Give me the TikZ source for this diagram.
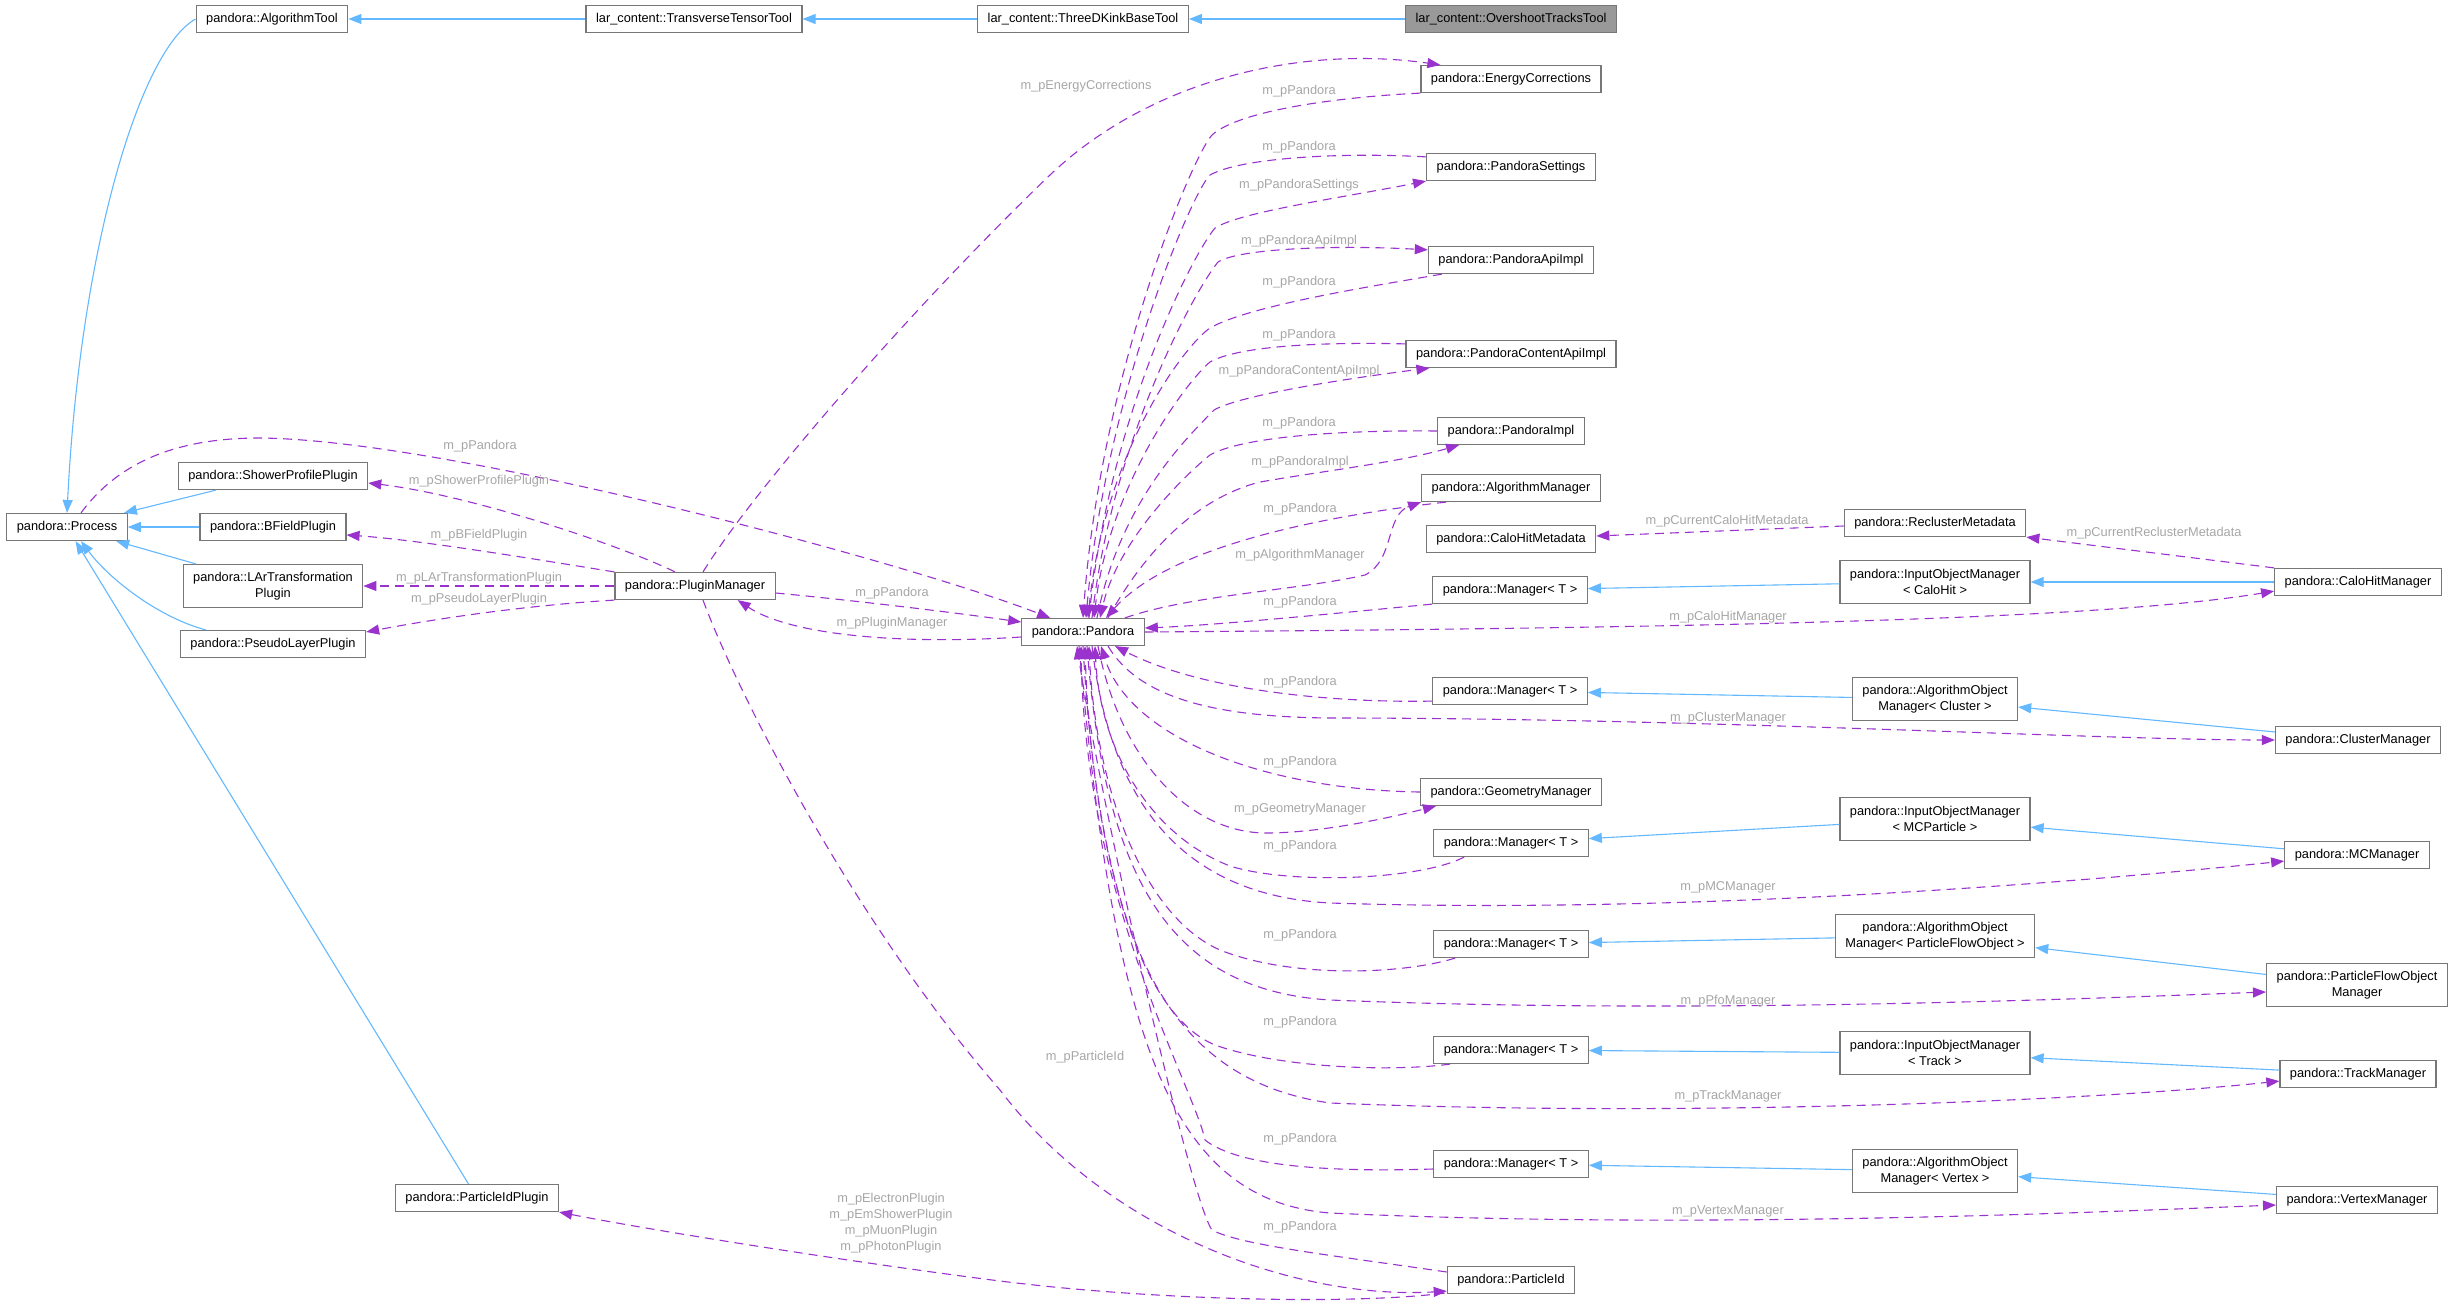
\documentclass[tikz,border=0pt]{standalone}
\usepackage{fontspec}
\setmainfont{Liberation Sans}
\usepackage{xcolor}
\usepackage{tikz}
\usetikzlibrary{arrows.meta,calc}

\definecolor{inheritblue}{HTML}{63B8FF}
\definecolor{usagepurple}{HTML}{9A32CD}
\definecolor{labelgray}{HTML}{A6A6A6}
\definecolor{boxline}{HTML}{777777}

\begin{document}
\begin{tikzpicture}[x=1pt,y=-1pt,font=\fontsize{12.8}{16}\selectfont]
    \tikzstyle{cls}=[rectangle,draw=boxline,line width=1.2pt,fill=white,inner xsep=10pt,inner ysep=3pt,minimum height=27pt]
    \tikzstyle{cls2}=[cls,align=center,minimum height=43pt]
    \tikzstyle{main cls}=[cls,fill=black!40]
    \tikzstyle{annot}=[text=labelgray,inner sep=0pt]
    \tikzstyle{inherit}=[draw=inheritblue,line width=1.1pt,-{Triangle[length=13pt,width=10pt]}]
    \tikzstyle{usage}=[draw=usagepurple,line width=1.1pt,dash pattern=on 9pt off 6pt,-{Triangle[length=13pt,width=10pt]}]

    \useasboundingbox (0,0) rectangle (2455,1308);

    % top row
    \node[cls] (algtool) at (272,19) {pandora::AlgorithmTool};
    \node[cls] (transverse) at (694,19) {lar\_content::TransverseTensorTool};
    \node[cls] (kinkbase) at (1083,19) {lar\_content::ThreeDKinkBaseTool};
    \node[main cls] (overshoot) at (1511,19) {lar\_content::OvershootTracksTool};

    % left side
    \node[cls] (process) at (67,527) {pandora::Process};
    \node[cls] (showerplugin) at (273,476) {pandora::ShowerProfilePlugin};
    \node[cls] (bfieldplugin) at (273,527) {pandora::BFieldPlugin};
    \node[cls2] (larplugin) at (273,586) {pandora::LArTransformation\\Plugin};
    \node[cls] (pseudoplugin) at (273,644) {pandora::PseudoLayerPlugin};
    \node[cls] (pidplugin) at (477,1198) {pandora::ParticleIdPlugin};
    \node[cls] (pluginmgr) at (695,586) {pandora::PluginManager};
    \node[cls] (pandora) at (1083,632) {pandora::Pandora};

    % column right of pandora
    \node[cls] (energycorr) at (1511,79) {pandora::EnergyCorrections};
    \node[cls] (settings) at (1511,167) {pandora::PandoraSettings};
    \node[cls] (apiimpl) at (1511,260) {pandora::PandoraApiImpl};
    \node[cls] (contentapi) at (1511,354) {pandora::PandoraContentApiImpl};
    \node[cls] (pandoraimpl) at (1511,431) {pandora::PandoraImpl};
    \node[cls] (algmgr) at (1511,488) {pandora::AlgorithmManager};
    \node[cls] (calometa) at (1511,539) {pandora::CaloHitMetadata};
    \node[cls] (mgrcalo) at (1510,590) {pandora::Manager< T >};
    \node[cls] (mgrcluster) at (1510,691) {pandora::Manager< T >};
    \node[cls] (geommgr) at (1511,792) {pandora::GeometryManager};
    \node[cls] (mgrmc) at (1511,843) {pandora::Manager< T >};
    \node[cls] (mgrpfo) at (1511,944) {pandora::Manager< T >};
    \node[cls] (mgrtrack) at (1511,1050) {pandora::Manager< T >};
    \node[cls] (mgrvertex) at (1511,1164) {pandora::Manager< T >};
    \node[cls] (particleid) at (1511,1280) {pandora::ParticleId};

    % object managers
    \node[cls] (reclustermeta) at (1935,523) {pandora::ReclusterMetadata};
    \node[cls2] (inputcalo) at (1935,582) {pandora::InputObjectManager\\< CaloHit >};
    \node[cls2] (algobjcluster) at (1935,699) {pandora::AlgorithmObject\\Manager< Cluster >};
    \node[cls2] (inputmc) at (1935,819) {pandora::InputObjectManager\\< MCParticle >};
    \node[cls2] (algobjpfo) at (1935,936) {pandora::AlgorithmObject\\Manager< ParticleFlowObject >};
    \node[cls2] (inputtrack) at (1935,1053) {pandora::InputObjectManager\\< Track >};
    \node[cls2] (algobjvertex) at (1935,1171) {pandora::AlgorithmObject\\Manager< Vertex >};

    \node[cls] (calohitmgr) at (2358,582) {pandora::CaloHitManager};
    \node[cls] (clustermgr) at (2358,740) {pandora::ClusterManager};
    \node[cls] (mcmgr) at (2357,855) {pandora::MCManager};
    \node[cls2] (pfomgr) at (2357,985) {pandora::ParticleFlowObject\\Manager};
    \node[cls] (trackmgr) at (2358,1074) {pandora::TrackManager};
    \node[cls] (vertexmgr) at (2357,1200) {pandora::VertexManager};

    % inheritance
    \draw[inherit] (transverse) -- (algtool);
    \draw[inherit] (kinkbase) -- (transverse);
    \draw[inherit] (overshoot) -- (kinkbase);
    \draw[inherit] (algtool.west) .. controls (140,50) and (80,250) .. (process.north);
    \draw[inherit] (showerplugin) -- (process);
    \draw[inherit] (bfieldplugin) -- (process);
    \draw[inherit] (larplugin) -- (process);
    \draw[inherit] ($(pseudoplugin.north west)+(26,0)$) .. controls (160,618) and (110,580) .. ($(process.south)+(14,0)$);
    \draw[inherit] (pidplugin) -- (process);

    \draw[inherit] (inputcalo) -- (mgrcalo);
    \draw[inherit] (calohitmgr) -- (inputcalo);
    \draw[inherit] (algobjcluster) -- (mgrcluster);
    \draw[inherit] (clustermgr) -- (algobjcluster);
    \draw[inherit] (inputmc) -- (mgrmc);
    \draw[inherit] (mcmgr) -- (inputmc);
    \draw[inherit] (algobjpfo) -- (mgrpfo);
    \draw[inherit] (pfomgr) -- (algobjpfo);
    \draw[inherit] (inputtrack) -- (mgrtrack);
    \draw[inherit] (trackmgr) -- (inputtrack);
    \draw[inherit] (algobjvertex) -- (mgrvertex);
    \draw[inherit] (vertexmgr) -- (algobjvertex);

    % members of the plugin manager
    \draw[usage] ($(process.north)+(14,0)$) .. controls (120,460) and (180,438) .. (260,438)
        .. controls (450,440) and (900,560) .. ($(pandora.north west)+(29,0)$)
        node[annot] at (480,446) {m\_pPandora};
    \draw[usage] ($(pluginmgr.north)+(-20,0)$) .. controls (620,545) and (470,495) .. ($(showerplugin.east)+(0,7)$)
        node[annot] at (479,481) {m\_pShowerProfilePlugin};
    \draw[usage] (pluginmgr.north west) .. controls (540,560) and (420,540) .. ($(bfieldplugin.east)+(0,8)$)
        node[annot] at (479,535) {m\_pBFieldPlugin};
    \draw[usage] (pluginmgr) -- (larplugin)
        node[annot] at (479,578) {m\_pLArTransformationPlugin};
    \draw[usage] (pluginmgr.south west) .. controls (530,605) and (440,618) .. ($(pseudoplugin.east)+(0,-12)$)
        node[annot] at (479,599) {m\_pPseudoLayerPlugin};
    \draw[usage] ($(pluginmgr.east)+(0,7)$) .. controls (850,600) and (950,612) .. ($(pandora.west)+(0,-10)$)
        node[annot] at (892,593) {m\_pPandora};
    \draw[usage] ($(pandora.west)+(0,5)$) .. controls (900,645) and (790,635) .. ($(pluginmgr.south east)+(-38,0)$)
        node[annot] at (892,623) {m\_pPluginManager};
    \draw[usage] ($(pluginmgr.north)+(8,0)$) .. controls (760,480) and (930,290) .. (1050,175)
        .. controls (1150,80) and (1300,45) .. ($(energycorr.north west)+(20,0)$)
        node[annot] at (1086,86) {m\_pEnergyCorrections};
    \draw[usage] ($(pluginmgr.south)+(8,0)$) .. controls (740,700) and (860,930) .. (1000,1090)
        .. controls (1110,1235) and (1300,1300) .. ($(particleid.south west)+(0,-3)$)
        node[annot] at (1085,1057) {m\_pParticleId};
    \draw[usage] ($(particleid.south west)+(-2,-1)$) .. controls (1350,1305) and (1150,1300) .. (1000,1281)
        .. controls (850,1262) and (650,1230) .. (pidplugin.south east)
        node[annot,align=center] at (891,1223) {m\_pElectronPlugin\\m\_pEmShowerPlugin\\m\_pMuonPlugin\\m\_pPhotonPlugin};

    % pandora and the classes above it
    \draw[usage] (energycorr.south west) .. controls (1340,97) and (1240,110) .. (1212,135)
        .. controls (1190,160) and (1100,380) .. (pandora.north)
        node[annot] at (1299,91) {m\_pPandora};
    \draw[usage] ($(settings.north west)+(0,4)$) .. controls (1340,152) and (1240,158) .. (1210,175)
        .. controls (1190,195) and (1105,400) .. ($(pandora.north)+(3,0)$)
        node[annot] at (1299,147) {m\_pPandora};
    \draw[usage] ($(pandora.north)+(6,0)$) .. controls (1108,420) and (1192,255) .. (1215,228)
        .. controls (1240,212) and (1340,198) .. (settings.south west)
        node[annot] at (1299,185) {m\_pPandoraSettings};
    \draw[usage] ($(pandora.north)+(9,0)$) .. controls (1112,440) and (1195,290) .. (1218,262)
        .. controls (1240,248) and (1340,245) .. ($(apiimpl.north west)+(0,4)$)
        node[annot] at (1299,241) {m\_pPandoraApiImpl};
    \draw[usage] ($(apiimpl.south west)+(14,0)$) .. controls (1380,285) and (1250,305) .. (1210,328)
        .. controls (1185,345) and (1105,450) .. ($(pandora.north)+(5,0)$)
        node[annot] at (1299,282) {m\_pPandora};
    \draw[usage] ($(contentapi.north west)+(0,4)$) .. controls (1330,342) and (1240,345) .. (1210,362)
        .. controls (1190,378) and (1110,480) .. ($(pandora.north)+(11,0)$)
        node[annot] at (1299,335) {m\_pPandora};
    \draw[usage] ($(pandora.north)+(14,0)$) .. controls (1120,500) and (1190,435) .. (1214,410)
        .. controls (1240,395) and (1350,378) .. ($(contentapi.south west)+(24,0)$)
        node[annot] at (1299,371) {m\_pPandoraContentApiImpl};
    \draw[usage] (pandoraimpl.west) .. controls (1330,430) and (1240,438) .. (1210,455)
        .. controls (1185,475) and (1118,540) .. ($(pandora.north)+(17,0)$)
        node[annot] at (1299,423) {m\_pPandora};
    \draw[usage] ($(pandora.north)+(25,0)$) .. controls (1140,560) and (1190,500) .. (1260,482)
        .. controls (1330,470) and (1400,462) .. ($(pandoraimpl.south west)+(22,0)$)
        node[annot] at (1300,462) {m\_pPandoraImpl};
    \draw[usage] ($(algmgr.south west)+(25,0)$) .. controls (1330,515) and (1170,545) .. ($(pandora.north)+(23,0)$)
        node[annot] at (1300,509) {m\_pPandora};
    \draw[usage] ($(pandora.north)+(42,0)$) .. controls (1190,595) and (1300,590) .. (1365,575)
        .. controls (1395,560) and (1385,515) .. (algmgr.south west)
        node[annot] at (1300,555) {m\_pAlgorithmManager};
    \draw[usage] (mgrcalo.south west) .. controls (1350,612) and (1220,625) .. ($(pandora.east)+(0,-4)$)
        node[annot] at (1300,602) {m\_pPandora};

    % calo hit manager and metadata
    \draw[usage] (pandora.east) .. controls (1700,628) and (2100,620) .. ($(calohitmgr.south west)+(0,-5)$)
        node[annot] at (1728,617) {m\_pCaloHitManager};
    \draw[usage] (calohitmgr.north west) -- (reclustermeta.south east)
        node[annot] at (2154,533) {m\_pCurrentReclusterMetadata};
    \draw[usage] ($(reclustermeta.west)+(0,3)$) -- ($(calometa.east)+(0,-3)$)
        node[annot] at (1727,521) {m\_pCurrentCaloHitMetadata};

    % pandora and the classes below it
    \draw[usage] ($(mgrcluster.south west)+(0,-4)$) .. controls (1330,703) and (1200,690) .. ($(pandora.south)+(32,0)$)
        node[annot] at (1300,682) {m\_pPandora};
    \draw[usage] ($(pandora.south)+(25,0)$) .. controls (1140,700) and (1220,717) .. (1330,718)
        .. controls (1700,718) and (2100,740) .. (clustermgr.west)
        node[annot] at (1728,718) {m\_pClusterManager};
    \draw[usage] (geommgr.west) .. controls (1270,790) and (1130,740) .. ($(pandora.south)+(18,0)$)
        node[annot] at (1300,762) {m\_pPandora};
    \draw[usage] ($(pandora.south)+(15,0)$) .. controls (1120,760) and (1190,835) .. (1270,833)
        .. controls (1330,832) and (1400,815) .. ($(geommgr.south west)+(16,0)$)
        node[annot] at (1300,809) {m\_pGeometryManager};
    \draw[usage] ($(mgrmc.south west)+(31,0)$) .. controls (1420,880) and (1290,885) .. (1230,866)
        .. controls (1150,835) and (1100,750) .. ($(pandora.south)+(12,0)$)
        node[annot] at (1300,846) {m\_pPandora};
    \draw[usage] ($(pandora.south)+(9,0)$) .. controls (1110,800) and (1180,895) .. (1330,903)
        .. controls (1700,915) and (2100,880) .. ($(mcmgr.south west)+(0,-8)$)
        node[annot] at (1728,887) {m\_pMCManager};
    \draw[usage] ($(mgrpfo.south west)+(22,0)$) .. controls (1400,975) and (1290,978) .. (1220,950)
        .. controls (1140,915) and (1095,780) .. ($(pandora.south)+(6,0)$)
        node[annot] at (1300,935) {m\_pPandora};
    \draw[usage] ($(pandora.south)+(4,0)$) .. controls (1105,880) and (1170,990) .. (1330,1000)
        .. controls (1700,1015) and (2100,998) .. ($(pfomgr.west)+(0,7)$)
        node[annot] at (1728,1001) {m\_pPfoManager};
    \draw[usage] ($(mgrtrack.south west)+(17,0)$) .. controls (1390,1072) and (1280,1068) .. (1215,1045)
        .. controls (1130,1010) and (1090,820) .. ($(pandora.south)+(2,0)$)
        node[annot] at (1300,1022) {m\_pPandora};
    \draw[usage] (pandora.south) .. controls (1100,950) and (1170,1080) .. (1330,1103)
        .. controls (1700,1118) and (2100,1100) .. ($(trackmgr.south west)+(0,-7)$)
        node[annot] at (1728,1096) {m\_pTrackManager};
    \draw[usage] ($(mgrvertex.west)+(0,5)$) .. controls (1340,1172) and (1240,1168) .. (1205,1140)
        .. controls (1195,1090) and (1085,900) .. ($(pandora.south)+(-2,0)$)
        node[annot] at (1300,1139) {m\_pPandora};
    \draw[usage] ($(pandora.south)+(-4,0)$) .. controls (1115,1040) and (1170,1200) .. (1330,1213)
        .. controls (1700,1230) and (2100,1212) .. ($(vertexmgr.west)+(0,5)$)
        node[annot] at (1728,1211) {m\_pVertexManager};
    \draw[usage] ($(particleid.west)+(0,-8)$) .. controls (1330,1255) and (1240,1245) .. (1212,1230)
        .. controls (1190,1200) and (1100,800) .. ($(pandora.south)+(-6,0)$)
        node[annot] at (1300,1227) {m\_pPandora};
\end{tikzpicture}
\end{document}
